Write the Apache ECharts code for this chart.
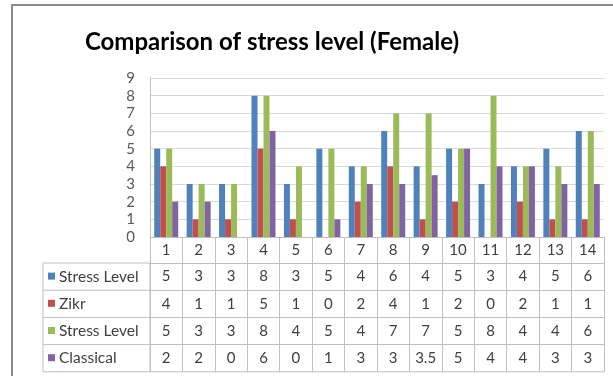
<!DOCTYPE html>
<html>
<head>
<meta charset="utf-8">
<script src="https://cdn.jsdelivr.net/npm/echarts@6/dist/echarts.min.js"></script>
<style>
  html, body { margin: 0; padding: 0; background: #fff; }
  #chart { width: 613px; height: 376px; }
</style>
</head>
<body>
<div id="chart"></div>
<script>
// data
var categories = ['1','2','3','4','5','6','7','8','9','10','11','12','13','14'];
var seriesNames = ['Stress Level', 'Zikr', 'Stress Level', 'Classical'];
var stressBefore = [5, 3, 3, 8, 3, 5, 4, 6, 4, 5, 3, 4, 5, 6];
var zikr = [4, 1, 1, 5, 1, 0, 2, 4, 1, 2, 0, 2, 1, 1];
var stressAfter = [5, 3, 3, 8, 4, 5, 4, 7, 7, 5, 8, 4, 4, 6];
var classical = [2, 2, 0, 6, 0, 1, 3, 3, 3.5, 5, 4, 4, 3, 3];
var yTicks = { min: 0, max: 9, interval: 1 };

var colors = ['#4F81BD', '#C0504D', '#9BBB59', '#8064A2'];
var rows = [stressBefore, zikr, stressAfter, classical];

// layout
var W = 613, H = 376;
var gLeft = 150, gRight = 604, gTop = 78, gBottom = 237;
var headH = 26, rowH = 27.2;
var colLeft = 43;
var lineCol = '#bfbfbf';
var font = 'Lato, "Open Sans", sans-serif';

var myChart = echarts.init(document.getElementById('chart'));

function tableAxis(data, offset) {
    return {
        type: 'category',
        data: data,
        gridIndex: 0,
        position: 'bottom',
        offset: offset,
        boundaryGap: true,
        axisLine: { show: true, lineStyle: { color: lineCol, width: 1 } },
        axisTick: { show: true, interval: 0, length: offset === 0 ? headH : rowH, lineStyle: { color: lineCol } },
        axisLabel: { interval: 0, margin: 6, fontSize: 15, color: '#404040', fontFamily: font },
        splitLine: { show: false }
    };
}

var xAxes = [tableAxis(categories, 0)];
rows.forEach(function (r, i) {
    xAxes.push(tableAxis(r.map(String), headH + rowH * i));
});

// legend column of the data table
var tableBottom = gBottom + headH + rowH * rows.length;
var graphics = [
    { type: 'rect', shape: { x: 12, y: 5, width: 640, height: 400 }, style: { fill: 'none', stroke: '#8c8c8c', lineWidth: 2 } },
    { type: 'text', x: 272, y: 30, style: { text: 'Comparison of stress level (Female)', fill: '#000', font: 'bold 24px ' + font, textAlign: 'center' } },
    { type: 'rect', shape: { x: colLeft, y: gBottom + headH, width: gLeft - colLeft, height: rowH * rows.length }, style: { fill: 'none', stroke: lineCol, lineWidth: 1 } },
    { type: 'line', shape: { x1: gLeft, y1: tableBottom, x2: gRight, y2: tableBottom }, style: { stroke: lineCol, lineWidth: 1 } }
];
seriesNames.forEach(function (name, i) {
    var cy = gBottom + headH + rowH * i + rowH / 2;
    if (i > 0) {
        graphics.push({ type: 'line', shape: { x1: colLeft, y1: cy - rowH / 2, x2: gLeft, y2: cy - rowH / 2 }, style: { stroke: lineCol, lineWidth: 1 } });
    }
    graphics.push({ type: 'rect', shape: { x: colLeft + 5, y: cy - 4, width: 7, height: 7 }, style: { fill: colors[i] } });
    graphics.push({ type: 'text', x: colLeft + 16, y: cy, style: { text: name, fill: '#404040', font: '15.5px ' + font, textVerticalAlign: 'middle' } });
});

var option = {
    animation: false,
    grid: {
        left: gLeft, right: W - gRight, top: gTop, bottom: H - gBottom,
        containLabel: false,
        outerBoundsMode: 'none'
    },
    xAxis: xAxes,
    yAxis: {
        type: 'value',
        min: yTicks.min, max: yTicks.max, interval: yTicks.interval,
        axisLine: { show: true, lineStyle: { color: lineCol } },
        axisTick: { show: false },
        axisLabel: { fontSize: 15, color: '#595959', margin: 15, fontFamily: font },
        splitLine: { show: true, lineStyle: { color: '#d9d9d9', width: 1 } }
    },
    series: rows.map(function (r, i) {
        return {
            name: seriesNames[i],
            type: 'bar',
            data: r,
            itemStyle: { color: colors[i] },
            barGap: '0%',
            barCategoryGap: '26%'
        };
    }),
    graphic: graphics
};

myChart.setOption(option);
</script>
</body>
</html>
